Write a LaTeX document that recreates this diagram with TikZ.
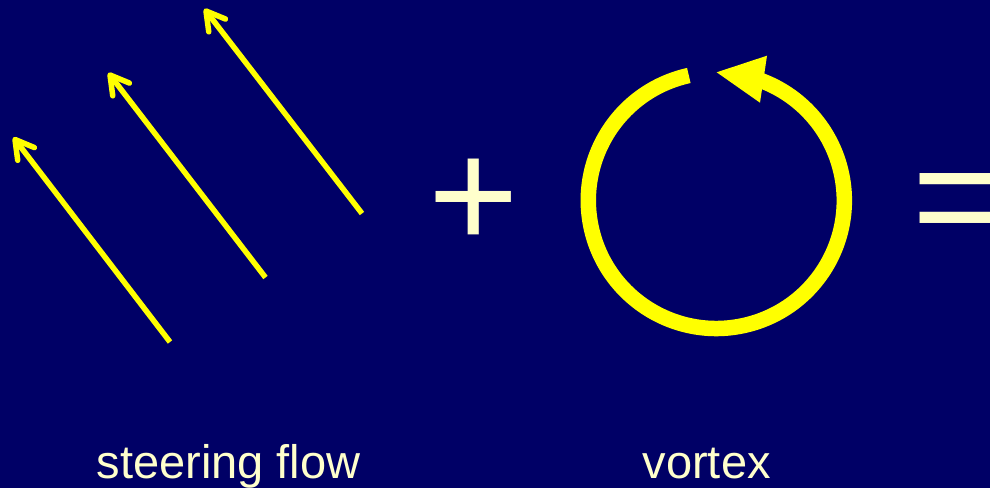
\documentclass[tikz,border=0pt]{standalone}
\usepackage{fontspec}
\setmainfont{Liberation Sans}
\usetikzlibrary{calc}
\definecolor{bgnavy}{RGB}{0,0,102}
\definecolor{flowyellow}{RGB}{255,255,0}
\definecolor{labelcream}{RGB}{255,255,204}
\begin{document}
\begin{tikzpicture}[x=1pt,y=1pt,
  flowline/.style={draw=flowyellow, line width=5.5pt},
  barbline/.style={draw=flowyellow, line width=5.5pt, line cap=round, line join=round},
  ringline/.style={draw=flowyellow, line width=15.5pt},
  labeltext/.style={text=labelcream, inner sep=0pt, font=\fontsize{47}{56}\selectfont},
  opsign/.style={text=labelcream, inner sep=0pt, font=\fontsize{155}{160}\selectfont}]
\fill[bgnavy] (0,0) rectangle (990,488);
\useasboundingbox (0,0) rectangle (990,488);
% steering flow arrows
\foreach \n/\tx/\ty/\hx/\hy in {1/170/146/15/348.5, 2/265.5/210.5/110/413, 3/362/274.5/206/477}{
  \coordinate (tail\n) at (\tx,\ty);
  \coordinate (tip\n) at (\hx,\hy);
  \draw[flowline] (tail\n) -- (tip\n);
  \draw[barbline] ($(tip\n)!21pt!30:(tail\n)$) -- (tip\n) -- ($(tip\n)!21pt!-30:(tail\n)$);
}
% vortex
\coordinate (vc) at (716.3,287.5);
\draw[ringline] (vc) ++(102.4:128pt) arc[start angle=102.4, end angle=431, radius=128pt];
\coordinate (vtip) at (716.7,415.7);
\coordinate (vbarbA) at (767,432.3);
\coordinate (vbarbB) at (760,385.3);
\fill[flowyellow] (vtip) -- (vbarbA) -- (vbarbB) -- cycle;
% operators
\node[opsign, anchor=base] (plus) at (473.3,240) {+};
\node[opsign, anchor=base west] (equals) at (912,239) {=};
% labels
\node[labeltext, anchor=base] (steer) at (228.5,9.7) {steering flow};
\node[labeltext, anchor=base] (vortex) at (706.7,9.7) {vortex};
\end{tikzpicture}
\end{document}
